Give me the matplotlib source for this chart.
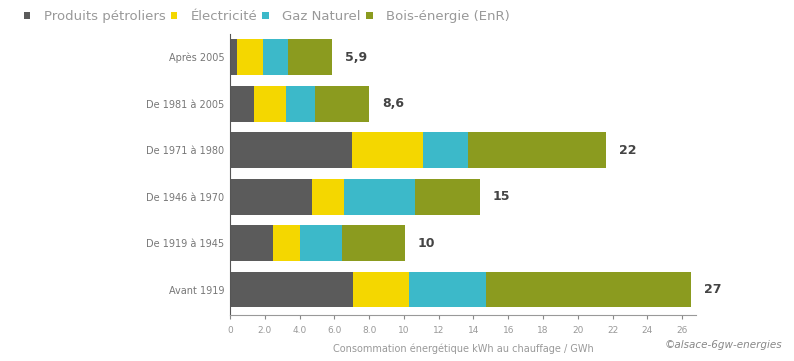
import matplotlib.pyplot as plt
import numpy as np

# periodes de construction (du bas vers le haut)
periods = ['Avant 1919', 'De 1919 à 1945', 'De 1946 à 1970', 'De 1971 à 1980',
           'De 1981 à 2005', 'Après 2005']
petrole = [7.1, 2.5, 4.7, 7.0, 1.4, 0.4]
electricite = [3.2, 1.55, 1.85, 4.1, 1.8, 1.5]
gaz = [4.4, 2.4, 4.1, 2.6, 1.7, 1.45]
bois = [11.8, 3.6, 3.7, 7.9, 3.1, 2.5]
totals_txt = ['27', '10', '15', '22', '8,6', '5,9']

series = [('Produits pétroliers', petrole, '#5b5b5b'),
          ('Électricité', electricite, '#f4d700'),
          ('Gaz Naturel', gaz, '#3cb9c9'),
          ('Bois-énergie (EnR)', bois, '#8b9b1f')]

xticks = [0, 2, 4, 6, 8, 10, 12, 14, 16, 18, 20, 22, 24, 26]
xticklabels = ['0', '2.0', '4.0', '6.0', '8.0', '10', '12', '14', '16', '18',
               '20', '22', '24', '26']

fig = plt.figure(figsize=(7.94, 3.61), dpi=100)
ax = fig.add_axes([0.2897, 0.127, 0.587, 0.779])

y = np.arange(len(periods))
left = np.zeros(len(periods))
for name, vals, col in series:
    ax.barh(y, vals, left=left, height=0.77, color=col, label=name)
    left += np.array(vals)

for yi, tot, txt in zip(y, left, totals_txt):
    ax.text(tot + 0.75, yi, txt, va='center', ha='left', fontsize=9,
            fontweight='bold', color='#444444')

ax.set_xlim(0, 26.8)
ax.set_ylim(-0.55, 5.5)
ax.set_yticks(y)
ax.set_yticklabels(periods, fontsize=7, color='#777777')
ax.tick_params(axis='y', length=0, pad=4)
ax.set_xticks(xticks)
ax.set_xticklabels(xticklabels, fontsize=6.5, color='#999999')
ax.tick_params(axis='x', length=3, color='#888888', pad=5)

for s in ['top', 'right']:
    ax.spines[s].set_visible(False)
ax.spines['left'].set_color('#555555')
ax.spines['bottom'].set_color('#999999')

ax.set_xlabel('Consommation énergétique kWh au chauffage / GWh', fontsize=7,
              color='#999999', labelpad=6)

leg = fig.legend(loc='upper left', bbox_to_anchor=(0.015, 1.005), ncol=4,
                 frameon=False, fontsize=9.5, handlelength=0.5, handleheight=0.5,
                 handletextpad=1.0, columnspacing=0.4)
for t in leg.get_texts():
    t.set_color('#999999')

fig.text(0.985, 0.035, '©alsace-6gw-energies', ha='right', fontsize=7.5,
         color='#888888', style='italic')

plt.savefig('out.png', dpi=100)
